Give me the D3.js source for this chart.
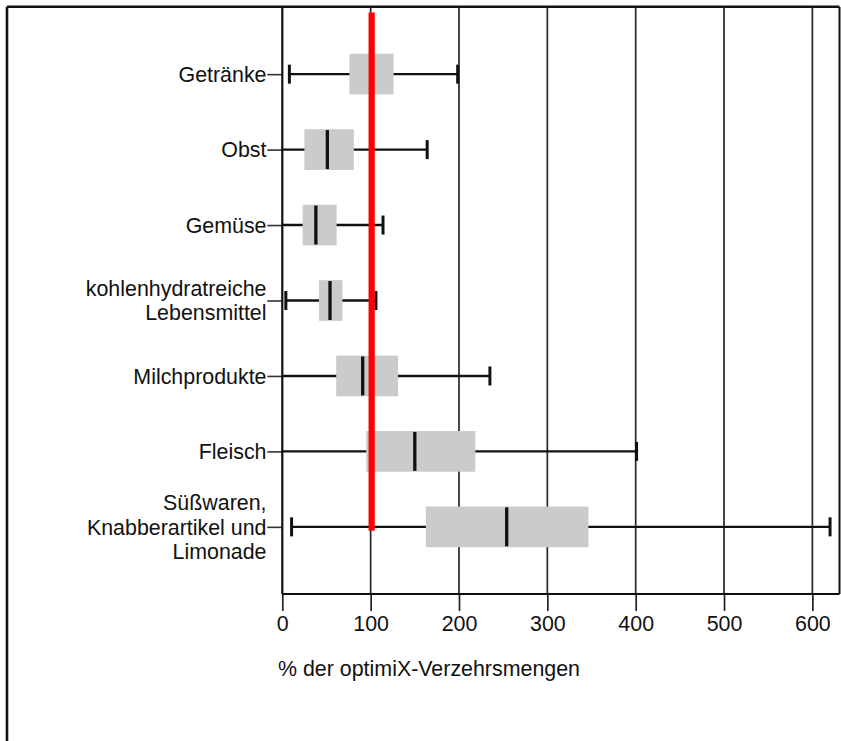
<!DOCTYPE html>
<html>
<head>
<meta charset="utf-8">
<script src="https://cdn.jsdelivr.net/npm/d3@7"></script>
<style>
  html, body { margin: 0; padding: 0; background: #fff; }
  svg { display: block; }
  text { font-family: "Liberation Sans", Arial, sans-serif; fill: #111; }
</style>
</head>
<body>
<svg id="chart" width="841" height="741"></svg>
<script>
// Food groups (top to bottom); multi-line labels are split into lines
const categories = ["Getränke", "Obst", "Gemüse", "kohlenhydratreiche Lebensmittel",
  "Milchprodukte", "Fleisch", "Süßwaren, Knabberartikel und Limonade"];
const labelLines = [["Getränke"], ["Obst"], ["Gemüse"], ["kohlenhydratreiche", "Lebensmittel"],
  ["Milchprodukte"], ["Fleisch"], ["Süßwaren,", "Knabberartikel und", "Limonade"]];

// Box plot statistics in % of the optimiX reference amounts
const whiskerLow  = [8, 0, 0, 4, 0, 0, 10.5];
const q1          = [76, 25, 23, 41.5, 61, 95, 162.5];
const median      = [100, 51, 38, 54, 91, 150, 254];
const q3          = [126, 81, 61.5, 68, 131, 218.5, 346.5];
const whiskerHigh = [198.5, 164, 114, 106, 235, 401, 620];

// Reference level (100 % = recommended amount)
const referenceValue = 100;

const xTicks = [0, 100, 200, 300, 400, 500, 600];
const xTitle = "% der optimiX-Verzehrsmengen";

const rows = categories.map((c, i) => ({
  cat: c, lines: labelLines[i], lo: whiskerLow[i], q1: q1[i],
  med: median[i], q3: q3[i], hi: whiskerHigh[i]
}));

const svg = d3.select("#chart");
const plot = { left: 282.3, right: 839.5, top: 7, bottom: 594 };
const FS = 21.4;

const x = d3.scaleLinear().domain([0, 630.7]).range([plot.left, plot.right]);
const y = d3.scalePoint().domain(categories).range([plot.top, plot.bottom]).padding(0.89);

// outer frame (left and top edges)
svg.append("line").attr("x1", 7).attr("x2", 7).attr("y1", 6.8).attr("y2", 741)
  .attr("stroke", "#111").attr("stroke-width", 2.6);
svg.append("line").attr("x1", 7).attr("x2", plot.right).attr("y1", 6.8).attr("y2", 6.8)
  .attr("stroke", "#111").attr("stroke-width", 2.6);

// vertical grid lines
svg.append("g").selectAll("line").data(xTicks.filter(d => d > 0)).join("line")
  .attr("x1", d => x(d)).attr("x2", d => x(d))
  .attr("y1", plot.top).attr("y2", plot.bottom)
  .attr("stroke", "#262626").attr("stroke-width", 1.7);

// bottom axis with ticks and labels
const xAxis = d3.axisBottom(x).tickValues(xTicks).tickSize(17).tickPadding(5)
  .tickFormat(d3.format("d"));
const gx = svg.append("g").attr("transform", `translate(0,${plot.bottom})`).call(xAxis);
gx.select(".domain").remove();
gx.selectAll(".tick line").attr("stroke", "#222").attr("stroke-width", 1.7);
gx.selectAll(".tick text").attr("font-size", FS).attr("fill", "#111")
  .attr("font-family", "Liberation Sans, Arial, sans-serif");

svg.append("text").attr("x", 278).attr("y", 675.5).attr("font-size", FS).text(xTitle);

// category ticks on the left axis
const yAxis = d3.axisLeft(y).tickSize(15).tickFormat("");
const gy = svg.append("g").attr("transform", `translate(${plot.left},0)`).call(yAxis);
gy.select(".domain").remove();
gy.selectAll(".tick line").attr("stroke", "#333").attr("stroke-width", 1.6);

// category labels, right aligned next to the ticks
const lineH = 24.4;
const labels = svg.append("g").selectAll("text").data(rows).join("text")
  .attr("text-anchor", "end").attr("font-size", FS);
labels.each(function(d) {
  const n = d.lines.length;
  d3.select(this).selectAll("tspan").data(d.lines).join("tspan")
    .attr("x", 266.5)
    .attr("y", (l, j) => y(d.cat) + (j - (n - 1) / 2) * lineH + 0.36 * FS)
    .text(l => l);
});

// whiskers
const g = svg.append("g");
g.selectAll("line.whisker").data(rows).join("line").attr("class", "whisker")
  .attr("x1", d => x(d.lo)).attr("x2", d => x(d.hi))
  .attr("y1", d => y(d.cat)).attr("y2", d => y(d.cat))
  .attr("stroke", "#111").attr("stroke-width", 2.4);

// whisker caps
const capH = 9.5;
g.selectAll("line.capLo").data(rows.filter(d => d.lo > 0)).join("line").attr("class", "capLo")
  .attr("x1", d => x(d.lo)).attr("x2", d => x(d.lo))
  .attr("y1", d => y(d.cat) - capH).attr("y2", d => y(d.cat) + capH)
  .attr("stroke", "#111").attr("stroke-width", 3);
g.selectAll("line.capHi").data(rows).join("line").attr("class", "capHi")
  .attr("x1", d => x(d.hi)).attr("x2", d => x(d.hi))
  .attr("y1", d => y(d.cat) - capH).attr("y2", d => y(d.cat) + capH)
  .attr("stroke", "#111").attr("stroke-width", 3);

// interquartile boxes
const boxH = 40.7;
g.selectAll("rect").data(rows).join("rect")
  .attr("x", d => x(d.q1)).attr("width", d => x(d.q3) - x(d.q1))
  .attr("y", d => y(d.cat) - boxH / 2).attr("height", boxH)
  .attr("fill", "#cbcbcb");

// medians
const medH = 19.5;
g.selectAll("line.median").data(rows).join("line").attr("class", "median")
  .attr("x1", d => x(d.med)).attr("x2", d => x(d.med))
  .attr("y1", d => y(d.cat) - medH).attr("y2", d => y(d.cat) + medH)
  .attr("stroke", "#111").attr("stroke-width", 3.3);

// plot frame: left axis, bottom axis, right edge
svg.append("line").attr("x1", plot.left).attr("x2", plot.left).attr("y1", plot.top).attr("y2", plot.bottom)
  .attr("stroke", "#111").attr("stroke-width", 2.2);
svg.append("line").attr("x1", plot.left).attr("x2", plot.right).attr("y1", plot.bottom).attr("y2", plot.bottom)
  .attr("stroke", "#111").attr("stroke-width", 2.2);
svg.append("line").attr("x1", plot.right).attr("x2", plot.right).attr("y1", plot.top).attr("y2", plot.bottom)
  .attr("stroke", "#111").attr("stroke-width", 2);

// reference line at 100 %
const yLast = y(categories[categories.length - 1]);
svg.append("line").attr("x1", x(referenceValue) + 1).attr("x2", x(referenceValue) + 1)
  .attr("y1", 12.5).attr("y2", yLast + 4)
  .attr("stroke", "#ff0000").attr("stroke-width", 6.2);
</script>
</body>
</html>
